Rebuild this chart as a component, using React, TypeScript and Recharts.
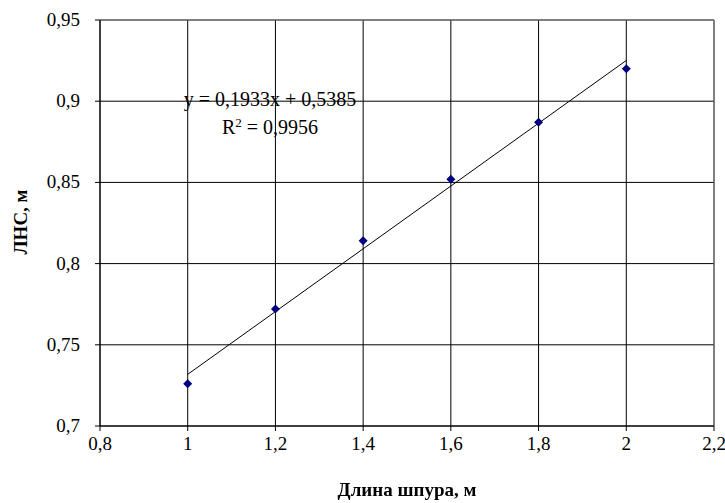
import {
  ComposedChart, Scatter, Line, XAxis, YAxis, CartesianGrid, ReferenceLine
} from "recharts";

const lengths = [1, 1.2, 1.4, 1.6, 1.8, 2];
const lnsValues = [0.726, 0.772, 0.814, 0.852, 0.887, 0.92];
const trendX = [1, 2];
const trendY = [0.7318, 0.9251];
const xTicks = [0.8, 1, 1.2, 1.4, 1.6, 1.8, 2, 2.2];
const yTicks = [0.7, 0.75, 0.8, 0.85, 0.9, 0.95];

const points = lengths.map((x, i) => ({ x, y: lnsValues[i] }));
const trend = trendX.map((x, i) => ({ x, y: trendY[i] }));

const font = "'Liberation Serif', 'Times New Roman', serif";
const fmt = (v: number) => String(v).replace(".", ",");

const Diamond = (props: any) => {
  const { cx, cy } = props;
  const r = 4.5;
  return (
    <path
      d={`M${cx},${cy - r} L${cx + r},${cy} L${cx},${cy + r} L${cx - r},${cy} Z`}
      fill="#000080"
    />
  );
};

const XTick = (props: any) => {
  const { x, y, payload } = props;
  return (
    <text x={x} y={y + 16} textAnchor="middle" style={{ fontFamily: font, fontSize: 19 }} fill="#000">
      {fmt(payload.value)}
    </text>
  );
};

const YTick = (props: any) => {
  const { x, y, payload } = props;
  return (
    <text x={x} y={y + 6} textAnchor="end" style={{ fontFamily: font, fontSize: 19 }} fill="#000">
      {fmt(payload.value)}
    </text>
  );
};

export default function App() {
  return (
    <div style={{ position: "fixed", left: 0, top: 0, width: 725, height: 503, background: "#fff", fontFamily: font }}>
      <ComposedChart
        width={725}
        height={503}
        margin={{ top: 20, right: 11, bottom: 0, left: 40 }}
        style={{ fontFamily: font }}
      >
        <CartesianGrid stroke="#000" strokeWidth={1} />
        <XAxis
          type="number"
          dataKey="x"
          height={77}
          domain={[0.8, 2.2]}
          ticks={xTicks}
          stroke="#000"
          tickSize={5}
          tickMargin={3}
          tick={<XTick />}
        />
        <YAxis
          type="number"
          dataKey="y"
          width={60}
          domain={[0.7, 0.95]}
          ticks={yTicks}
          stroke="#000"
          tickSize={5}
          tickMargin={15}
          tick={<YTick />}
        />
        <ReferenceLine y={0.95} stroke="#808080" />
        <ReferenceLine x={2.2} stroke="#808080" />
        <Line
          data={trend}
          dataKey="y"
          stroke="#000"
          strokeWidth={1}
          dot={false}
          isAnimationActive={false}
        />
        <Scatter data={points} dataKey="y" shape={<Diamond />} isAnimationActive={false} />
      </ComposedChart>
      <div
        style={{
          position: "absolute",
          left: 170,
          top: 85,
          fontSize: 20,
          lineHeight: "28px",
          textAlign: "center",
          width: 200
        }}
      >
        <div>y = 0,1933x + 0,5385</div>
        <div>
          R<sup style={{ fontSize: 13, verticalAlign: "7px", lineHeight: 0 }}>2</sup> = 0,9956
        </div>
      </div>
      <div
        style={{
          position: "absolute",
          left: 0,
          top: 479,
          width: 814,
          textAlign: "center",
          fontSize: 19,
          fontWeight: "bold"
        }}
      >
        Длина шпура, м
      </div>
      <div
        style={{
          position: "absolute",
          left: 21,
          top: 222,
          transform: "translate(-50%, -50%) rotate(-90deg)",
          whiteSpace: "nowrap",
          fontSize: 19,
          fontWeight: "bold"
        }}
      >
        ЛНС, м
      </div>
    </div>
  );
}
